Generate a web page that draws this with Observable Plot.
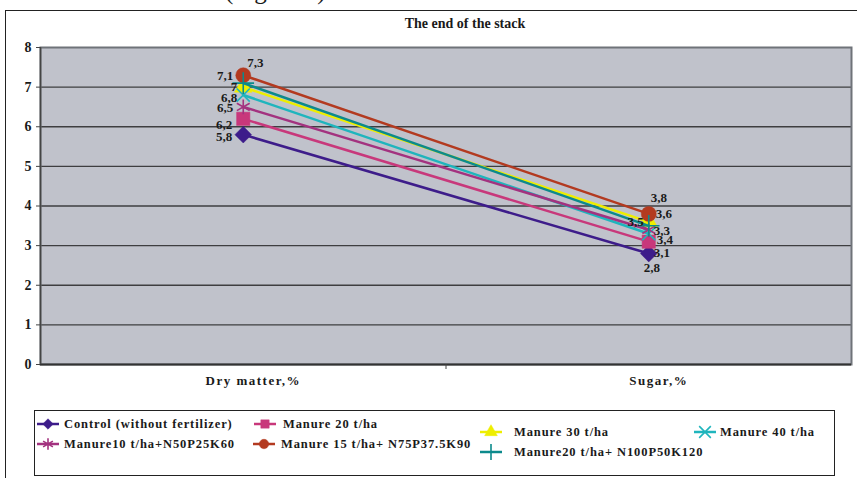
<!DOCTYPE html>
<html><head><meta charset="utf-8">
<script src="https://cdn.jsdelivr.net/npm/d3@7"></script>
<script src="https://cdn.jsdelivr.net/npm/@observablehq/plot@0.6"></script>
<style>
body{margin:0;background:#fff;}
#page{position:relative;width:857px;height:478px;overflow:hidden;font-family:"Liberation Serif",serif;font-weight:bold;color:#1a1a1a;}
#frame{position:absolute;left:5px;top:10px;width:900px;height:500px;border-left:1px solid #222;border-top:1px solid #222;}
#cut{position:absolute;left:225px;top:-22px;font-size:25px;line-height:25px;font-weight:normal;white-space:nowrap;}
#title{position:absolute;left:0;width:930px;top:16px;text-align:center;font-size:14px;}
#chart{position:absolute;left:0;top:0;}
#chart [aria-label="x-axis tick label"] text{letter-spacing:1.5px;}
#legend{position:absolute;left:34px;top:410px;width:799px;height:64px;border:1px solid #222;}
.item{position:absolute;display:flex;align-items:center;height:16px;white-space:nowrap;font-size:12.5px;letter-spacing:0.9px;}
</style></head><body><div id="page"><div id="frame"></div><div id="cut">(Figure 1)</div></div>
<script>
const title = "The end of the stack";
const categories = ["Dry matter,%", "Sugar,%"];
const seriesNames = [
  "Control (without fertilizer)",
  "Manure 20 t/ha",
  "Manure 30 t/ha",
  "Manure 40 t/ha",
  "Manure10 t/ha+N50P25K60",
  "Manure 15 t/ha+ N75P37.5K90",
  "Manure20 t/ha+ N100P50K120"
];
const dryMatter = [5.8, 6.2, 7.0, 6.8, 6.5, 7.3, 7.1];
const sugar     = [2.8, 3.1, 3.6, 3.3, 3.4, 3.8, 3.5];
const yTicks = [0, 1, 2, 3, 4, 5, 6, 7, 8];

// styles (colour, marker, label placement, legend placement) per series
const styles = [
  {color:"#3d1c8a", symbol:"diamond2", filled:true,  r:7.5, lab:[["end",-11,2],["middle",3,14]], lg:[48,424,64]},
  {color:"#c8387b", symbol:"square",   filled:true,  r:7.5, lab:[["end",-11,6],["start",5,11]], lg:[265,424,283]},
  {color:"#eeee00", symbol:"triangle", filled:true,  r:6.5, lab:[["end",-6,0],["start",7,-8]], lg:[491,432,514]},
  {color:"#1fb5bd", symbol:"times",    filled:false, r:6,   lab:[["end",-6,3],["start",5,-3]], lg:[705,432,720]},
  {color:"#a3327f", symbol:"asterisk", filled:false, r:7,   lab:[["end",-10,1],["start",8,10]], lg:[48,444,64]},
  {color:"#b33a20", symbol:"circle",   filled:true,  r:7.5, lab:[["middle",12,-12],["middle",10,-16]], lg:[264,444,281]},
  {color:"#0c8a8c", symbol:"plus",     filled:false, r:7,   lab:[["end",-10,-7],["end",-5,-4]], lg:[491,452,514]}
];

const rows = seriesNames.map((s, i) => categories.map((c, j) => ({
  series: s, cat: c, xi: j + 0.5, value: j === 0 ? dryMatter[i] : sugar[i]
})));
const fmt = v => String(v).replace(".", ",");

const marks = [
  Plot.frame({fill:"#c0c2cb"}),
  Plot.ruleY(yTicks.slice(1, -1), {stroke:"#3e3e40", strokeWidth:1.3}),
  Plot.frame({stroke:"#6f7379", strokeWidth:2}),
  Plot.ruleY([0], {stroke:"#333", strokeWidth:2}),
  Plot.ruleX([0], {stroke:"#444", strokeWidth:1.5}),
  Plot.axisY({ticks: yTicks, tickSize:4, tickPadding:5, fontSize:14, fontWeight:"bold", tickFormat: d => String(d), label:null, stroke:"#444"}),
  Plot.axisX({ticks:[0.5, 1.5], tickSize:0, tickPadding:11, fontSize:13, fontWeight:"bold", dx:10, tickFormat: v => categories[Math.floor(v)], label:null}),
  Plot.axisX({ticks:[1], tickSize:5, tickFormat: () => "", label:null, stroke:"#444"})
];
rows.forEach((r, i) => {
  const st = styles[i];
  marks.push(Plot.line(r, {x:"xi", y:"value", stroke:st.color, strokeWidth:2.5}));
  marks.push(Plot.dot(r, {x:"xi", y:"value", symbol:st.symbol, r:st.r,
    fill: st.filled ? st.color : "none", stroke: st.color, strokeWidth: st.filled ? 0.5 : 1.6}));
});
rows.forEach((r, i) => {
  const st = styles[i];
  r.forEach((d, j) => {
    const [anchor, dx, dy] = st.lab[j];
    marks.push(Plot.text([d], {x:"xi", y:"value", text: d => fmt(d.value), textAnchor:anchor, dx, dy,
      fontSize:13, fontWeight:"bold", fill:"#1a1a1a"}));
  });
});

const chart = Plot.plot({
  width: 857, height: 400,
  marginLeft: 40, marginRight: 6, marginTop: 47, marginBottom: 36,
  x: {type:"linear", domain:[0, 2]},
  y: {domain:[0, 8]},
  style: {fontFamily:"Liberation Serif", fontWeight:"bold", background:"transparent", overflow:"visible", color:"#1a1a1a"},
  marks
});
chart.id = "chart";
const page = document.getElementById("page");
page.appendChild(chart);

const t = document.createElement("div");
t.id = "title"; t.textContent = title;
page.appendChild(t);

const legend = document.createElement("div");
legend.id = "legend";
page.appendChild(legend);
const symMap = {diamond2:d3.symbolDiamond2, square:d3.symbolSquare, triangle:d3.symbolTriangle,
  times:d3.symbolTimes, asterisk:d3.symbolAsterisk, circle:d3.symbolCircle, plus:d3.symbolPlus};
seriesNames.forEach((s, i) => {
  const st = styles[i];
  const [mx, my, tx] = st.lg;
  const svg = d3.create("svg").attr("width", 24).attr("height", 16)
    .style("position","absolute").style("left", (mx - 12 - 35) + "px").style("top", (my - 8 - 411) + "px");
  svg.append("line").attr("x1", 1).attr("x2", 23).attr("y1", 8).attr("y2", 8).attr("stroke", st.color).attr("stroke-width", 2.5);
  svg.append("path").attr("transform", "translate(12,8)")
    .attr("d", d3.symbol(symMap[st.symbol], st.filled ? 70 : 90)())
    .attr("fill", st.filled ? st.color : "none").attr("stroke", st.color).attr("stroke-width", st.filled ? 0.5 : 1.6);
  legend.appendChild(svg.node());
  const lab = document.createElement("div");
  lab.className = "item";
  lab.textContent = s;
  lab.style.left = (tx - 35) + "px";
  lab.style.top = (my - 8 - 411) + "px";
  legend.appendChild(lab);
});
</script></body></html>
